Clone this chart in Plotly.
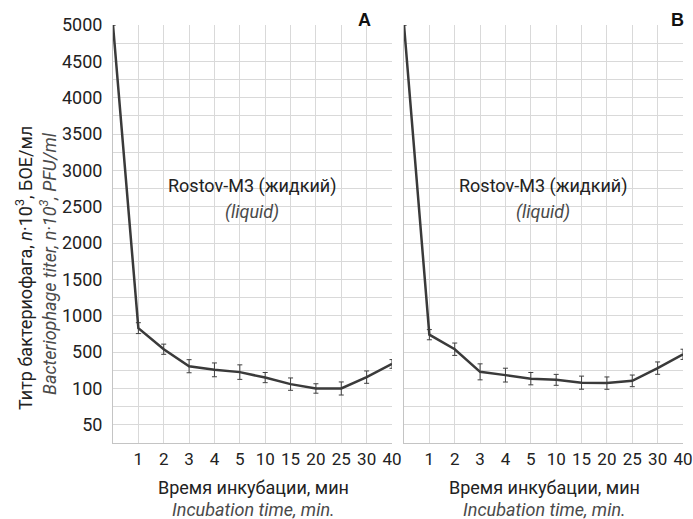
import numpy as np
import plotly.graph_objects as go

# ---- data ----
time_labels = ["0", "1", "2", "3", "4", "5", "10", "15", "20", "25", "30", "40"]
y_tick_values = [50, 100, 500, 1000, 1500, 2000, 2500, 3000, 3500, 4000, 4500, 5000]
titer_A = [5000, 830, 540, 345, 305, 280, 220, 148, 100, 100, 225, 370]
titer_B = [5000, 740, 540, 283, 247, 208, 195, 164, 159, 184, 324, 476]
# error half-widths, in grid steps of the ordinal titer scale
err_A = [0, 0.15, 0.14, 0.18, 0.19, 0.20, 0.14, 0.17, 0.13, 0.18, 0.17, 0.12]
err_B = [0, 0.14, 0.17, 0.22, 0.19, 0.17, 0.15, 0.18, 0.17, 0.16, 0.17, 0.14]
strain_label = "Rostov-M3 (жидкий)"
strain_label_en = "(liquid)"

FONT = "Roboto"
TXT = "#222222"
TXT2 = "#4a4a4a"
GRID = "#d9d9d9"
AXIS = "#c4c4c4"
FS = 18

idx_y = np.arange(len(y_tick_values))
idx_x = np.arange(len(time_labels))


def to_pos(vals):
    return np.interp(vals, y_tick_values, idx_y)


fig = go.Figure()
for i, (vals, errs) in enumerate([(titer_A, err_A), (titer_B, err_B)]):
    ax = "" if i == 0 else "2"
    fig.add_trace(go.Scatter(
        x=idx_x, y=to_pos(vals), mode="lines",
        line=dict(color="#3a3a3a", width=2.5),
        error_y=dict(type="data", array=errs, symmetric=True,
                     color="#404040", thickness=1, width=2.5),
        xaxis="x" + ax, yaxis="y" + ax, showlegend=False,
        hoverinfo="skip"))

W, H = 693, 519
dA = [113 / W, 392 / W]
dB = [404 / W, 683 / W]
dy = [1 - 443 / H, 1 - 25 / H]

common_x = dict(
    range=[0, 11], tickmode="array", tickvals=idx_x[1:], ticktext=time_labels[1:],
    showgrid=True, gridcolor=GRID, gridwidth=1,
    showline=True, linecolor=AXIS, linewidth=1,
    ticks="", zeroline=False, fixedrange=True, automargin=False,
    tickfont=dict(family=FONT, size=17, color=TXT), ticklabelstandoff=1,
    ticklabeloverflow="allow",
)
# grid every half step, labels only on whole steps
grid_pos = list(np.arange(0, len(y_tick_values) - 0.75, 0.5))
grid_text = [str(y_tick_values[int(p)]) if p == int(p) else "" for p in grid_pos]
common_y = dict(
    range=[-0.5, 11], tickmode="array", tickvals=grid_pos,
    showgrid=True, gridcolor=GRID, gridwidth=1,
    showline=True, linecolor=AXIS, linewidth=1,
    ticks="", zeroline=False, fixedrange=True, automargin=False,
    tickfont=dict(family=FONT, size=FS, color=TXT), ticklabelstandoff=6,
    ticklabeloverflow="allow",
)

fig.update_layout(
    width=W, height=H,
    margin=dict(l=0, r=0, t=0, b=0, autoexpand=False),
    paper_bgcolor="white", plot_bgcolor="white",
    xaxis=dict(domain=dA, anchor="y", **common_x),
    xaxis2=dict(domain=dB, anchor="y2", **common_x),
    yaxis=dict(domain=dy, anchor="x", ticktext=grid_text, **common_y),
    yaxis2=dict(domain=dy, anchor="x2", showticklabels=False, **common_y),
)


def px(x, y):
    return dict(x=x / W, y=1 - y / H, xref="paper", yref="paper", showarrow=False,
                xanchor="center", yanchor="middle")


ann = []
for cx in [252, 543]:
    ann.append(dict(text=strain_label, font=dict(family=FONT, size=FS, color=TXT), **px(cx, 186)))
    ann.append(dict(text="<i>" + strain_label_en + "</i>", font=dict(family=FONT, size=FS, color=TXT2),
                    **px(cx, 212)))
    ann.append(dict(text="Время инкубации, мин", font=dict(family=FONT, size=FS, color=TXT), **px(cx + 1, 487)))
    ann.append(dict(text="<i>Incubation time, min.</i>", font=dict(family=FONT, size=FS, color=TXT2),
                    **px(cx + 1, 509)))

ann.append(dict(text="<b>A</b>", font=dict(family="Liberation Sans", size=18, color="#111111"), **px(364, 20)))
ann.append(dict(text="<b>B</b>", font=dict(family="Liberation Sans", size=18, color="#111111"), **px(677, 20)))

ann.append(dict(text="Титр бактериофага, <i>n</i>·10<sup>3</sup>, БОЕ/мл", textangle=-90,
                font=dict(family=FONT, size=FS, color=TXT), **px(24, 268)))
ann.append(dict(text="<i>Bacteriophage titer, n·10<sup>3</sup>, PFU/ml</i>", textangle=-90,
                font=dict(family=FONT, size=FS, color=TXT2), **px(48, 264)))
fig.update_layout(annotations=ann)

fig.write_html("out.html", config={"displayModeBar": False},
               post_script="document.body.style.margin='0';")
